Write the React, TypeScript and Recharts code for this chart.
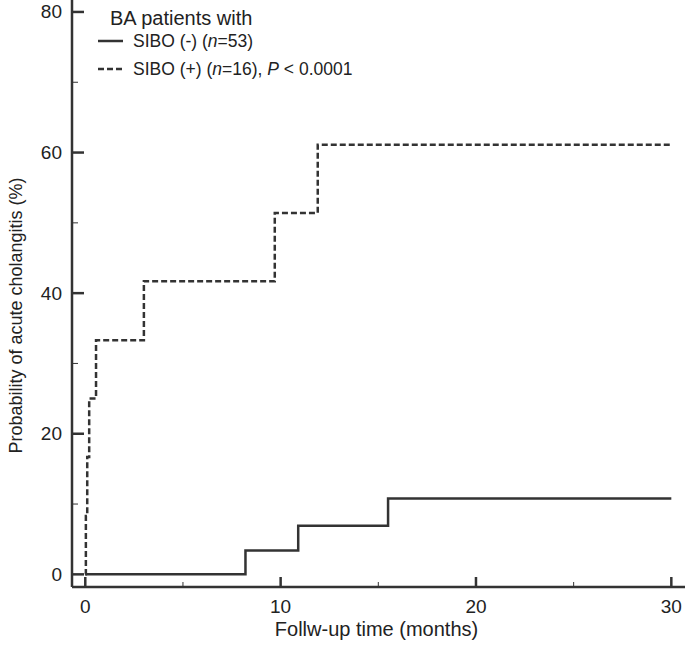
import React from "react";
import { LineChart, Line, XAxis, YAxis } from "recharts";

// Kaplan-Meier style cumulative probability (%) by follow-up month
const sibNegTime = [0, 8.2, 10.9, 15.5, 30];
const sibNegProb = [0, 3.4, 6.9, 10.8, 10.8];

const sibPosTime = [0, 0.03, 0.1, 0.2, 0.55, 3.0, 9.7, 11.9, 30];
const sibPosProb = [0, 8.3, 16.7, 25, 33.3, 41.7, 51.4, 61.1, 61.1];

const xTicks = [0, 5, 10, 15, 20, 25, 30];
const yTicks = [0, 10, 20, 30, 40, 50, 60, 70, 80];

const FONT = "'Liberation Sans', Arial, Helvetica, sans-serif";
const INK = "#333";

const negData = sibNegTime.map((t, i) => ({ t, p: sibNegProb[i] }));
const posData = sibPosTime.map((t, i) => ({ t, p: sibPosProb[i] }));

function YTick(props: any) {
  const { x, y, payload } = props;
  const major = payload.value % 20 === 0;
  return (
    <g>
      <line x1={x} x2={x + (major ? 12 : 6)} y1={y} y2={y} stroke={INK} strokeWidth={major ? 2.5 : 1} />
      {major && (
        <text x={x - 10} y={y} textAnchor="end" dominantBaseline="central" fontSize={19} fontFamily={FONT} fill="#222">
          {payload.value}
        </text>
      )}
    </g>
  );
}

function XTick(props: any) {
  const { x, y, payload } = props;
  const major = payload.value % 10 === 0;
  return (
    <g>
      <line x1={x} x2={x} y1={y} y2={y - (major ? 10 : 5)} stroke={INK} strokeWidth={major ? 2.5 : 1} />
      {major && (
        <text x={x} y={y + 26} textAnchor="middle" fontSize={19} fontFamily={FONT} fill="#222">
          {payload.value}
        </text>
      )}
    </g>
  );
}

function YLabel(props: any) {
  const { viewBox } = props;
  const cx = viewBox.x + 16;
  const cy = viewBox.y + viewBox.height / 2 + 22;
  return (
    <text
      x={cx}
      y={cy}
      transform={`rotate(-90 ${cx} ${cy})`}
      textAnchor="middle"
      dominantBaseline="central"
      fontSize={18}
      fontFamily={FONT}
      fill="#222"
    >
      Probability of acute cholangitis (%)
    </text>
  );
}

function XLabel(props: any) {
  const { viewBox } = props;
  return (
    <text
      x={viewBox.x + viewBox.width / 2 - 2}
      y={viewBox.y + 49}
      textAnchor="middle"
      fontSize={20}
      fontFamily={FONT}
      fill="#222"
    >
      Follw-up time (months)
    </text>
  );
}

function KeyBox() {
  return (
    <svg width={420} height={90} style={{ position: "absolute", left: 0, top: 0 }}>
      <g fontFamily={FONT} fill="#222">
        <text x={110} y={25} fontSize={20}>BA patients with</text>
        <line x1={98} x2={123} y1={41} y2={41} stroke={INK} strokeWidth={2.5} />
        <text x={133} y={41} fontSize={17.5} dominantBaseline="central">
          SIBO (-) (<tspan fontStyle="italic">n</tspan>=53)
        </text>
        <line x1={98} x2={123} y1={69} y2={69} stroke={INK} strokeWidth={2.5} strokeDasharray="6 3" />
        <text x={133} y={69} fontSize={17.5} dominantBaseline="central">
          SIBO (+) (<tspan fontStyle="italic">n</tspan>=16), <tspan fontStyle="italic">P</tspan> {"<"} 0.0001
        </text>
      </g>
    </svg>
  );
}

export default function App() {
  return (
    <div style={{ position: "relative", width: 685, height: 656, background: "#fff" }}>
      <style>{`body{margin:0}`}</style>
      <LineChart width={685} height={656} margin={{ top: 0, right: 0, bottom: 0, left: 0 }}>
        <XAxis
          type="number"
          dataKey="t"
          domain={[-0.68, 30.7]}
          ticks={xTicks}
          allowDataOverflow
          height={69}
          tickSize={0}
          tickMargin={0}
          tickLine={false}
          tick={<XTick />}
          axisLine={{ stroke: INK, strokeWidth: 2.5 }}
          label={<XLabel />}
        />
        <YAxis
          type="number"
          dataKey="p"
          domain={[-1.8, 81.7]}
          ticks={yTicks}
          allowDataOverflow
          width={72}
          tickSize={0}
          tickMargin={0}
          tickLine={false}
          tick={<YTick />}
          axisLine={{ stroke: INK, strokeWidth: 2.5 }}
          label={<YLabel />}
        />
        <Line
          data={negData}
          dataKey="p"
          type="stepAfter"
          stroke={INK}
          strokeWidth={2.5}
          dot={false}
          isAnimationActive={false}
        />
        <Line
          data={posData}
          dataKey="p"
          type="stepAfter"
          stroke={INK}
          strokeWidth={2.5}
          strokeDasharray="6 3"
          dot={false}
          isAnimationActive={false}
        />
      </LineChart>
      <KeyBox />
    </div>
  );
}
